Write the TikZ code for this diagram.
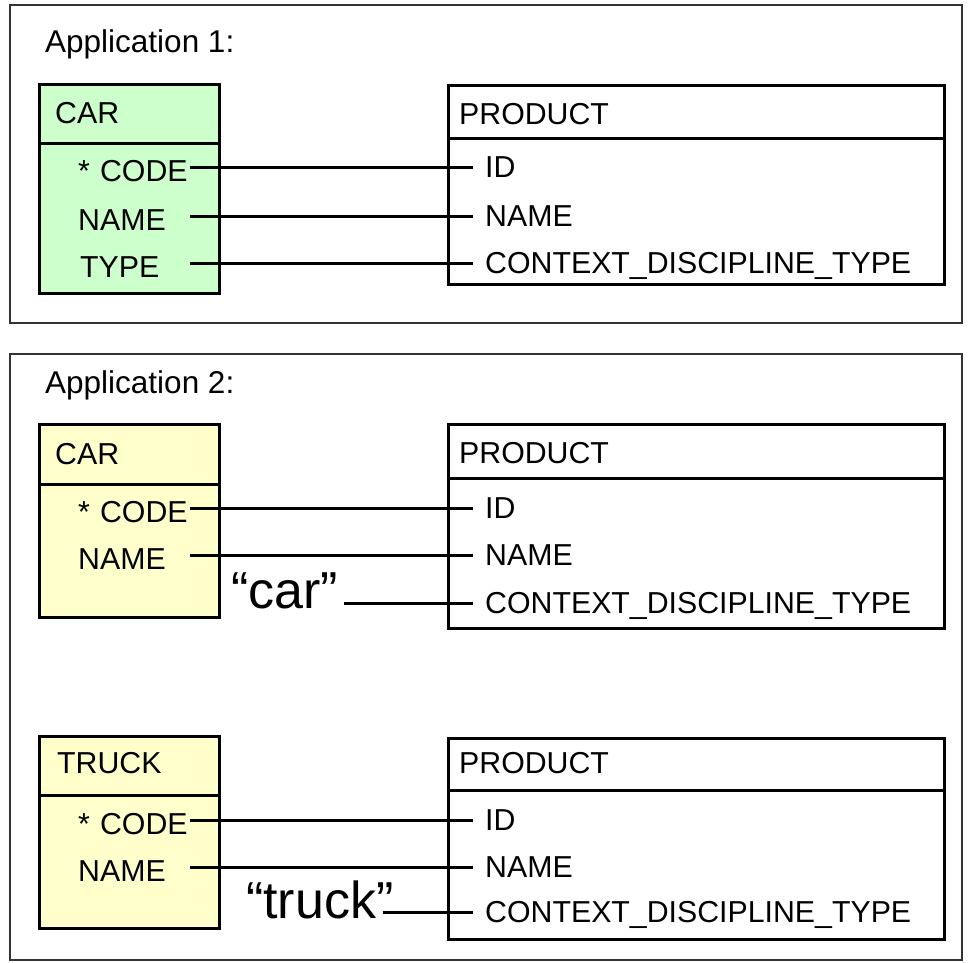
\documentclass[tikz,border=0pt]{standalone}
\usepackage{fontspec}
\setmainfont{Liberation Sans}
\usetikzlibrary{calc}
\definecolor{entGreen}{HTML}{CCFFCC}
\definecolor{entYellow}{HTML}{FFFFCC}
\newcommand\fieldfont{\fontsize{30.3}{36}\selectfont}
\newcommand\titlefont{\fontsize{31.5}{38}\selectfont}
\newcommand\quotefont{\fontsize{52}{60}\selectfont}
\begin{document}
\begin{tikzpicture}[x=1pt,y=-1pt,
  frame/.style={draw=black!80, line width=1.8pt, anchor=north west, inner sep=0pt},
  entbox/.style={draw=black, line width=3pt, anchor=north west, inner sep=0pt},
  divider/.style={draw=black, line width=3pt},
  link/.style={draw=black, line width=3pt},
  title/.style={anchor=base west, inner sep=0pt, font=\titlefont},
  label/.style={anchor=base west, inner sep=0pt, font=\fieldfont},
  attr/.style={anchor=base west, inner sep=0pt, font=\fieldfont, text width=112pt, align=left},
  quotelabel/.style={anchor=base west, inner sep=0pt, font=\quotefont}]
\useasboundingbox (0,0) rectangle (968,962);
\fill[white] (0,0) rectangle (968,962);

% ---------- Application 1 ----------
\node[frame, minimum width=952pt, minimum height=318pt] (frameA) at (9,4) {};
\node[title] (titleA) at (45,52) {Application 1:};

\node[entbox, fill=entGreen, minimum width=180pt, minimum height=209pt] (carA) at (38,83) {};
\draw[divider] (carA.west |- 0,143) -- (carA.east |- 0,143);
\node[label] (carAname) at (55,123) {CAR};
\node[attr] (carAcode) at (78,181) {* CODE};
\node[attr] (carAnm)   at (78,230) {NAME};
\node[attr] (carAtype) at (80,277) {TYPE};

\node[entbox, minimum width=496pt, minimum height=199pt] (prodA) at (447,84) {};
\draw[divider] (prodA.west |- 0,138) -- (prodA.east |- 0,138);
\node[label] (prodAname) at (459,124) {PRODUCT};
\node[label] (prodAid)   at (485,177.5) {ID};
\node[label] (prodAnm)   at (485,226.5) {NAME};
\node[label] (prodActx)  at (485,273.5) {CONTEXT\_DISCIPLINE\_TYPE};

\draw[link] ($(carAcode.base east)+(0,-14)$) -- ($(prodAid.base west)+(-12,-10.5)$);
\draw[link] ($(carAnm.base east)+(0,-14)$) -- ($(prodAnm.base west)+(-12,-10.5)$);
\draw[link] ($(carAtype.base east)+(-2,-14)$) -- ($(prodActx.base west)+(-12,-10.5)$);

% ---------- Application 2 ----------
\node[frame, minimum width=952pt, minimum height=606pt] (frameB) at (9,353) {};
\node[title] (titleB) at (45,393) {Application 2:};

% car mapping
\node[entbox, fill=entYellow, minimum width=180pt, minimum height=193pt] (carB) at (38,423) {};
\draw[divider] (carB.west |- 0,484) -- (carB.east |- 0,484);
\node[label] (carBname) at (55,464) {CAR};
\node[attr] (carBcode) at (78,522) {* CODE};
\node[attr] (carBnm)   at (78,569) {NAME};
\node[quotelabel] (carBq) at (231,608) {“car”};

\node[entbox, minimum width=496pt, minimum height=204pt] (prodB) at (447,423) {};
\draw[divider] (prodB.west |- 0,478) -- (prodB.east |- 0,478);
\node[label] (prodBname) at (459,463) {PRODUCT};
\node[label] (prodBid)   at (485,518.5) {ID};
\node[label] (prodBnm)   at (485,565.5) {NAME};
\node[label] (prodBctx)  at (485,613.5) {CONTEXT\_DISCIPLINE\_TYPE};

\draw[link] ($(carBcode.base east)+(0,-14)$) -- ($(prodBid.base west)+(-12,-10.5)$);
\draw[link] ($(carBnm.base east)+(0,-14)$) -- ($(prodBnm.base west)+(-12,-10.5)$);
\draw[link] ($(carBq.base east)+(6,-5)$) -- ($(prodBctx.base west)+(-12,-10.5)$);

% truck mapping
\node[entbox, fill=entYellow, minimum width=180pt, minimum height=192pt] (truckC) at (38,735) {};
\draw[divider] (truckC.west |- 0,795) -- (truckC.east |- 0,795);
\node[label] (truckCname) at (57,773) {TRUCK};
\node[attr] (truckCcode) at (78,834) {* CODE};
\node[attr] (truckCnm)   at (78,881) {NAME};
\node[quotelabel] (truckCq) at (246,918) {“truck”};

\node[entbox, minimum width=496pt, minimum height=201pt] (prodC) at (447,737) {};
\draw[divider] (prodC.west |- 0,790) -- (prodC.east |- 0,790);
\node[label] (prodCname) at (459,773) {PRODUCT};
\node[label] (prodCid)   at (485,830.5) {ID};
\node[label] (prodCnm)   at (485,877.5) {NAME};
\node[label] (prodCctx)  at (485,922.5) {CONTEXT\_DISCIPLINE\_TYPE};

\draw[link] ($(truckCcode.base east)+(0,-14)$) -- ($(prodCid.base west)+(-12,-10.5)$);
\draw[link] ($(truckCnm.base east)+(0,-14)$) -- ($(prodCnm.base west)+(-12,-10.5)$);
\draw[link] ($(truckCq.base east)+(-11,-6)$) -- ($(prodCctx.base west)+(-12,-10.5)$);
\end{tikzpicture}
\end{document}
